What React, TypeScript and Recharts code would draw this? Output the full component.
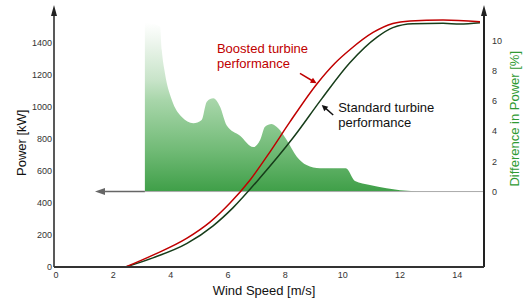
import {
  ComposedChart,
  Line,
  Area,
  XAxis,
  YAxis,
  ReferenceLine,
  Label,
} from "recharts";

const speedTicks = [0, 2, 4, 6, 8, 10, 12, 14];
const powerTicks = [0, 200, 400, 600, 800, 1000, 1200, 1400];
const diffTicks = [0, 2, 4, 6, 8, 10];

// boosted turbine power curve (kW)
const boostedSpeed = [2.5, 3.45, 4.64, 5.44, 6.14, 6.84, 7.53, 8.23, 9.17, 9.8, 10.32, 11.13, 11.82, 12.42, 13.57, 14.86];
const boostedPower = [0, 74, 180, 280, 399, 543, 717, 905, 1142, 1271, 1355, 1463, 1519, 1535, 1541, 1530];

// standard turbine power curve (kW)
const standardSpeed = [2.5, 3.45, 4.64, 5.55, 6.24, 7.18, 8.34, 9.35, 10.32, 11.27, 11.82, 12.52, 13.57, 14.16, 14.86];
const standardPower = [0, 57, 147, 257, 369, 555, 806, 1052, 1274, 1434, 1493, 1518, 1520, 1516, 1524];

// difference in power (%)
const diffSpeed = [3.17, 3.35, 3.7, 3.76, 3.87, 4.11, 4.45, 4.86, 5.15, 5.33, 5.56, 5.79, 6.02, 6.49, 6.95, 7.19, 7.36, 7.59, 7.82, 8.12, 8.47, 8.81, 9.28, 9.74, 10.18, 10.5, 11.02, 11.6, 12.07, 13.1];
const diffPct = [11.2, 11.15, 10.93, 9.38, 7.84, 6.07, 4.96, 4.53, 4.74, 5.96, 6.18, 5.63, 4.4, 3.7, 2.95, 3.42, 4.3, 4.48, 4.19, 3.42, 2.31, 1.76, 1.54, 1.54, 1.54, 0.7, 0.44, 0.22, 0.09, 0];

const boosted = boostedSpeed.map((speed, i) => ({ speed, power: boostedPower[i] }));
const standard = standardSpeed.map((speed, i) => ({ speed, power: standardPower[i] }));
const diff = diffSpeed.map((speed, i) => ({ speed, pct: diffPct[i] }));

const RED = "#c00000";
const DARK = "#173d1a";
const GREEN_TEXT = "#2e9a33";
const FONT = '"Liberation Sans", Arial, sans-serif';

function headPoints(x1: number, y1: number, x2: number, y2: number, len: number, half: number) {
  const d = Math.hypot(x2 - x1, y2 - y1) || 1;
  const ux = (x2 - x1) / d;
  const uy = (y2 - y1) / d;
  const bx = x2 - ux * len;
  const by = y2 - uy * len;
  return `${x2},${y2} ${bx - uy * half},${by + ux * half} ${bx + uy * half},${by - ux * half}`;
}

type ArrowOpts = {
  color: string;
  width: number;
  extend?: number;
  len?: number;
  half?: number;
  note?: { lines: string[]; dx: number; dy: number; color: string };
};

function makeArrow({ color, width, extend = 0, len = 6, half = 3, note }: ArrowOpts) {
  return (props: any) => {
    const { x1, y1, x2, y2 } = props;
    const d = Math.hypot(x2 - x1, y2 - y1) || 1;
    const ux = (x2 - x1) / d;
    const uy = (y2 - y1) / d;
    const tx = x2 + ux * extend;
    const ty = y2 + uy * extend;
    return (
      <g>
        <line x1={x1} y1={y1} x2={tx - ux * len * 0.5} y2={ty - uy * len * 0.5} stroke={color} strokeWidth={width} />
        <polygon points={headPoints(x1, y1, tx, ty, len, half)} fill={color} />
        {note &&
          note.lines.map((t, i) => (
            <text key={i} x={x1 + note.dx} y={y1 + note.dy + i * 15} fill={note.color} fontSize={13} fontFamily={FONT}>
              {t}
            </text>
          ))}
      </g>
    );
  };
}

function plainLine(color: string, width: number) {
  return (props: any) => {
    const { x1, y1, x2, y2 } = props;
    return <line x1={x1} y1={y1} x2={x2} y2={y2} stroke={color} strokeWidth={width} />;
  };
}

const tickStyle = { fontSize: 9, fill: "#333", fontFamily: FONT };

export default function App() {
  return (
    <div style={{ position: "absolute", left: 0, top: 0, width: 526, height: 300, fontFamily: FONT, background: "#fff" }}>
      <ComposedChart width={526} height={300} margin={{ top: 10.5, right: 0, bottom: 0, left: 0 }}>
        <defs>
          <linearGradient id="diffFill" x1="0" y1="0" x2="0" y2="1">
            <stop offset="0" stopColor="#ffffff" />
            <stop offset="0.1" stopColor="#f0f7f0" />
            <stop offset="0.34" stopColor="#c8e4c9" />
            <stop offset="0.46" stopColor="#a8d6aa" />
            <stop offset="0.75" stopColor="#72bb77" />
            <stop offset="1" stopColor="#3f9f48" />
          </linearGradient>
        </defs>
        <XAxis
          dataKey="speed"
          type="number"
          domain={[0, 15]}
          ticks={speedTicks}
          height={33}
          tickLine={false}
          tickSize={0}
          tickMargin={5}
          tick={{ ...tickStyle, dx: 2 }}
          axisLine={{ stroke: "#333", strokeWidth: 2 }}
        >
          <Label
            content={({ viewBox }: any) => (
              <text
                x={viewBox.x + viewBox.width / 2 - 5}
                y={viewBox.y + 23}
                textAnchor="middle"
                dominantBaseline="central"
                fontSize={13}
                fill="#111"
                fontFamily={FONT}
              >
                Wind Speed [m/s]
              </text>
            )}
          />
        </XAxis>
        <YAxis
          yAxisId="power"
          type="number"
          domain={[0, 1600]}
          ticks={powerTicks}
          width={54}
          tickLine={false}
          tickSize={0}
          tickMargin={2}
          axisLine={false}
          tick={tickStyle}
          allowDataOverflow
        >
          <Label
            content={({ viewBox }: any) => {
              const x = viewBox.x + 21;
              const y = viewBox.y + viewBox.height / 2 + 4;
              return (
                <text x={x} y={y} textAnchor="middle" dominantBaseline="central" fontSize={13} fill="#111" fontFamily={FONT} transform={`rotate(-90 ${x} ${y})`}>
                  Power [kW]
                </text>
              );
            }}
          />
        </YAxis>
        <YAxis
          yAxisId="pct"
          orientation="right"
          type="number"
          domain={[-5, 12]}
          ticks={diffTicks}
          width={42}
          tickLine={false}
          tickSize={0}
          tickMargin={8}
          axisLine={false}
          tick={tickStyle}
          allowDataOverflow
        >
          <Label
            content={({ viewBox }: any) => {
              const x = viewBox.x + 30;
              const y = viewBox.y + viewBox.height / 2 - 20;
              return (
                <text x={x} y={y} textAnchor="middle" dominantBaseline="central" fontSize={13} fill={GREEN_TEXT} fontFamily={FONT} transform={`rotate(-90 ${x} ${y})`}>
                  Difference in Power [%]
                </text>
              );
            }}
          />
        </YAxis>

        <Area
          yAxisId="pct"
          data={diff}
          dataKey="pct"
          type="monotone"
          baseValue={0}
          stroke="none"
          fill="url(#diffFill)"
          fillOpacity={1}
          isAnimationActive={false}
        />

        <ReferenceLine
          yAxisId="pct"
          segment={[{ x: 3.17, y: 0 }, { x: 15, y: 0 }]}
          ifOverflow="visible"
          shape={plainLine("#aaa", 1)}
        />
        <ReferenceLine
          yAxisId="pct"
          segment={[{ x: 3.17, y: 0 }, { x: 1.43, y: 0 }]}
          ifOverflow="visible"
          shape={makeArrow({ color: "#666", width: 1.5, len: 10, half: 3.5 })}
        />

        <Line
          yAxisId="power"
          data={standard}
          dataKey="power"
          type="monotone"
          stroke={DARK}
          strokeWidth={1.5}
          dot={false}
          isAnimationActive={false}
        />
        <Line
          yAxisId="power"
          data={boosted}
          dataKey="power"
          type="monotone"
          stroke={RED}
          strokeWidth={1.5}
          dot={false}
          isAnimationActive={false}
        />

        <ReferenceLine
          yAxisId="power"
          segment={[{ x: 0, y: 0 }, { x: 0, y: 1600 }]}
          ifOverflow="visible"
          shape={makeArrow({ color: "#222", width: 1.5, extend: 5.5, len: 11, half: 3 })}
        />
        <ReferenceLine
          yAxisId="power"
          segment={[{ x: 15, y: 0 }, { x: 15, y: 1600 }]}
          ifOverflow="visible"
          shape={makeArrow({ color: "#222", width: 2, extend: 5.5, len: 11, half: 3 })}
        />

        <ReferenceLine
          yAxisId="power"
          segment={[{ x: 8.58, y: 1208 }, { x: 9.16, y: 1146 }]}
          ifOverflow="visible"
          shape={makeArrow({
            color: RED,
            width: 1.5,
            note: { lines: ["Boosted turbine", "performance"], dx: -83, dy: -20.5, color: RED },
          })}
        />
        <ReferenceLine
          yAxisId="power"
          segment={[{ x: 9.74, y: 948 }, { x: 9.34, y: 1011 }]}
          ifOverflow="visible"
          shape={makeArrow({
            color: "#111",
            width: 1.5,
            note: { lines: ["Standard turbine", "performance"], dx: 5, dy: -2.7, color: "#111" },
          })}
        />
      </ComposedChart>
    </div>
  );
}
